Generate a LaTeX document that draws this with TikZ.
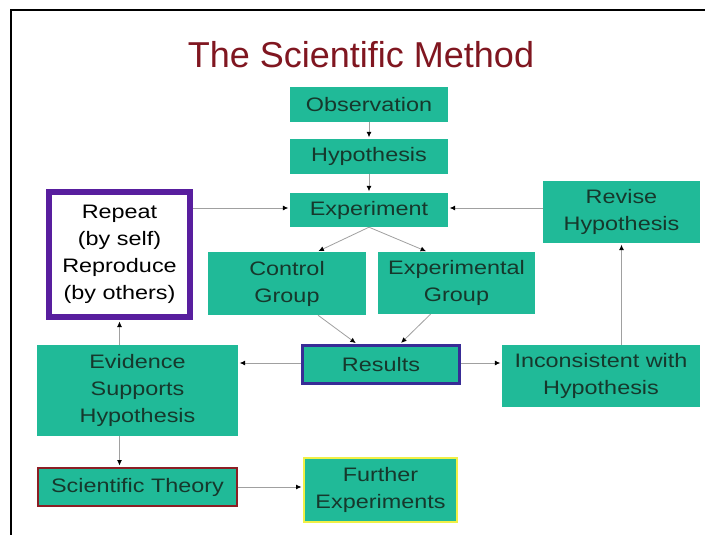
\documentclass[tikz,border=0pt]{standalone}
\usepackage{fontspec}
\setmainfont[FakeStretch=1.2]{Liberation Sans}
\newfontfamily\titlefont{Liberation Sans}
\usetikzlibrary{arrows.meta}
\definecolor{boxteal}{RGB}{32,186,152}
\definecolor{boxtext}{RGB}{22,56,44}
\definecolor{titlered}{RGB}{128,22,32}
\definecolor{linegray}{RGB}{160,160,160}
\definecolor{repeatpurple}{RGB}{88,30,158}
\definecolor{resultsblue}{RGB}{56,44,150}
\definecolor{theoryred}{RGB}{140,30,36}
\definecolor{furtheryellow}{RGB}{240,240,70}

\begin{document}
\begin{tikzpicture}[x=1pt,y=-1pt,
    box/.style={fill=boxteal,text=boxtext,inner sep=0pt,align=center,
        font=\fontsize{19.5}{27}\selectfont},
    link/.style={draw=linegray,line width=0.8pt,
        -{Latex[length=5.5pt,width=5pt,color=black]},shorten >=1.5pt}]
    \useasboundingbox (0,0) rectangle (705,535);
    \fill[white] (0,0) rectangle (705,535);
    \draw[line width=2.5pt] (705,10) -- (11,10) -- (11,535);

    \node[text=titlered,font=\titlefont\fontsize{36}{40}\selectfont] (title) at (361,55) {The Scientific Method};

    % main column
    \node[box,minimum width=158,minimum height=35] (obs) at (369,104.5) {Observation};
    \node[box,minimum width=158,minimum height=35] (hyp) at (369,156.5) {Hypothesis};
    \node[box,minimum width=158,minimum height=34] (expt) at (369,210) {Experiment};
    \node[box,minimum width=158,minimum height=63] (ctrl) at (287,283.5) {Control\\Group};
    \node[box,minimum width=157,minimum height=62] (exptl) at (456.5,283) {Experimental\\Group};
    \node[box,draw=resultsblue,line width=3pt,minimum width=157,minimum height=38] (results) at (381,364.5) {Results};

    % left side
    \node[box,fill=white,text=black,draw=repeatpurple,line width=6pt,
        minimum width=141,minimum height=125] (repeat) at (119.5,254.5) {Repeat\\(by self)\\Reproduce\\(by others)};
    \node[box,minimum width=201,minimum height=91] (evid) at (137.5,390.5) {Evidence\\Supports\\Hypothesis};
    \node[box,draw=theoryred,line width=2pt,minimum width=199,minimum height=38] (theory) at (137.5,487) {Scientific Theory};
    \node[box,draw=furtheryellow,line width=2pt,minimum width=153,minimum height=64] (further) at (380.5,490) {Further\\Experiments};

    % right side
    \node[box,minimum width=157,minimum height=62] (revise) at (621.5,212) {Revise\\Hypothesis};
    \node[box,minimum width=198,minimum height=62] (incons) at (601,376) {Inconsistent with\\Hypothesis};

    \draw[link] (obs) -- (hyp);
    \draw[link] (hyp) -- (expt);
    \draw[link] (repeat.east |- 0,208) -- (expt.west |- 0,208);
    \draw[link] (revise.west |- 0,208) -- (expt.east |- 0,208);
    \draw[link] (expt.south) -- ([xshift=30pt]ctrl.north);
    \draw[link] (expt.south) -- ([xshift=-29pt]exptl.north);
    \draw[link] ([xshift=31pt]ctrl.south) -- ([xshift=-24pt]results.north);
    \draw[link] ([xshift=-26pt]exptl.south) -- ([xshift=19pt]results.north);
    \draw[link] (results.west |- 0,363) -- (evid.east |- 0,363);
    \draw[link] (results.east |- 0,363) -- (incons.west |- 0,363);
    \draw[link] (evid.north -| repeat.south) -- (repeat.south);
    \draw[link] (incons.north -| revise.south) -- (revise.south);
    \draw[link] (evid.south -| repeat.south) -- (theory.north -| repeat.south);
    \draw[link] (theory.east) -- (theory.east -| further.west);
\end{tikzpicture}
\end{document}
